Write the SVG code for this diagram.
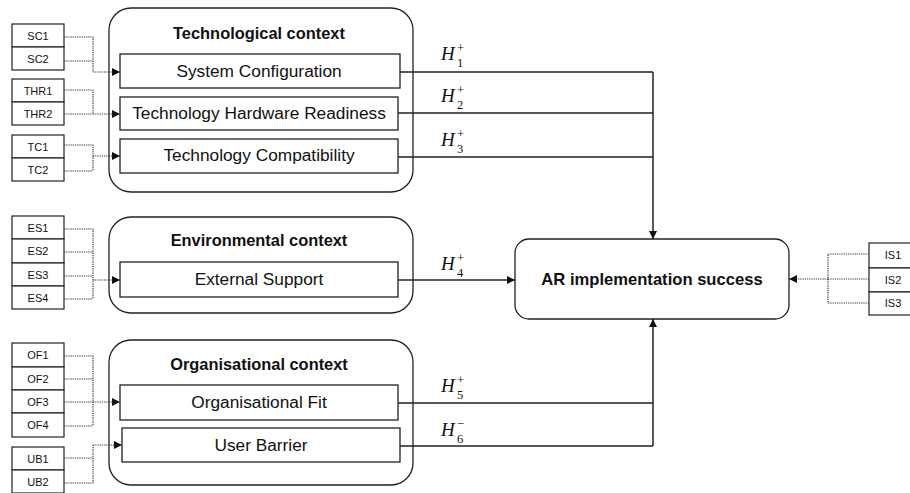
<svg xmlns="http://www.w3.org/2000/svg" width="910" height="493" viewBox="0 0 910 493">
<style>
.ctx{fill:#fff;stroke:#222;stroke-width:1.3}
.box{fill:#fff;stroke:#222;stroke-width:1.3}
.ind{fill:#fff;stroke:#222;stroke-width:1.2}
.title{font-family:"Liberation Sans",Arial,sans-serif;font-weight:bold;font-size:16.4px;fill:#111;text-anchor:middle}
.lbl{font-family:"Liberation Sans",Arial,sans-serif;font-size:17.3px;fill:#111;text-anchor:middle}
.ilbl{font-family:"Liberation Sans",Arial,sans-serif;font-size:11px;fill:#111;text-anchor:middle}
.ar{font-family:"Liberation Sans",Arial,sans-serif;font-weight:bold;font-size:16.6px;fill:#111;text-anchor:middle}
.hH{font-family:"Liberation Serif","Times New Roman",serif;font-style:italic;font-size:19px;fill:#111}
.hs{font-family:"Liberation Serif","Times New Roman",serif;font-style:normal;font-size:12.5px;fill:#111}
.solid{fill:none;stroke:#222;stroke-width:1.5}
.dot{fill:none;stroke:#333;stroke-width:1.2;stroke-dasharray:1.2 1}
</style>
<defs>
<marker id="ah" viewBox="0 0 10 10" refX="10" refY="5" markerWidth="8" markerHeight="8" markerUnits="userSpaceOnUse" orient="auto">
<path d="M0,0 L10,5 L0,10 z" fill="#111"/>
</marker>
</defs>

<g id="tech-context">
<rect class="ctx" x="109" y="8" width="304" height="184" rx="22"/>
<text class="title" x="259" y="39">Technological context</text>
</g>
<g id="system-configuration">
<rect class="box" x="120" y="54" width="280" height="34"/>
<text class="lbl" x="259" y="77">System Configuration</text>
</g>
<g id="tech-hardware-readiness">
<rect class="box" x="120" y="97" width="278" height="33"/>
<text class="lbl" x="259" y="119">Technology Hardware Readiness</text>
</g>
<g id="tech-compatibility">
<rect class="box" x="120" y="139" width="278" height="34"/>
<text class="lbl" x="259" y="161">Technology Compatibility</text>
</g>

<g id="env-context">
<rect class="ctx" x="109" y="217" width="304" height="96" rx="22"/>
<text class="title" x="259" y="246">Environmental context</text>
</g>
<g id="external-support">
<rect class="box" x="120" y="262" width="278" height="35"/>
<text class="lbl" x="259" y="285">External Support</text>
</g>

<g id="org-context">
<rect class="ctx" x="109" y="340" width="304" height="145" rx="22"/>
<text class="title" x="259" y="370">Organisational context</text>
</g>
<g id="organisational-fit">
<rect class="box" x="120" y="385" width="278" height="35"/>
<text class="lbl" x="259" y="408">Organisational Fit</text>
</g>
<g id="user-barrier">
<rect class="box" x="122" y="428" width="278" height="34"/>
<text class="lbl" x="261" y="451">User Barrier</text>
</g>

<g id="ar-success">
<rect class="box" x="515" y="239" width="274" height="80" rx="14"/>
<text class="ar" x="652" y="285">AR implementation success</text>
</g>

<g id="indicators-sc">
<rect class="ind" x="12" y="24" width="52" height="23"/><text class="ilbl" x="38" y="40">SC1</text>
<rect class="ind" x="12" y="47" width="52" height="23"/><text class="ilbl" x="38" y="63">SC2</text>
</g>
<g id="indicators-thr">
<rect class="ind" x="12" y="79" width="52" height="23"/><text class="ilbl" x="38" y="95">THR1</text>
<rect class="ind" x="12" y="102" width="52" height="23"/><text class="ilbl" x="38" y="118">THR2</text>
</g>
<g id="indicators-tc">
<rect class="ind" x="12" y="135" width="52" height="23"/><text class="ilbl" x="38" y="151">TC1</text>
<rect class="ind" x="12" y="158" width="52" height="23"/><text class="ilbl" x="38" y="174">TC2</text>
</g>
<g id="indicators-es">
<rect class="ind" x="12" y="216" width="52" height="23"/><text class="ilbl" x="38" y="232">ES1</text>
<rect class="ind" x="12" y="239" width="52" height="24"/><text class="ilbl" x="38" y="255">ES2</text>
<rect class="ind" x="12" y="263" width="52" height="23"/><text class="ilbl" x="38" y="279">ES3</text>
<rect class="ind" x="12" y="286" width="52" height="23"/><text class="ilbl" x="38" y="302">ES4</text>
</g>
<g id="indicators-of">
<rect class="ind" x="12" y="343" width="52" height="24"/><text class="ilbl" x="38" y="359">OF1</text>
<rect class="ind" x="12" y="367" width="52" height="23"/><text class="ilbl" x="38" y="383">OF2</text>
<rect class="ind" x="12" y="390" width="52" height="23"/><text class="ilbl" x="38" y="406">OF3</text>
<rect class="ind" x="12" y="413" width="52" height="24"/><text class="ilbl" x="38" y="429">OF4</text>
</g>
<g id="indicators-ub">
<rect class="ind" x="12" y="447" width="52" height="23"/><text class="ilbl" x="38" y="463">UB1</text>
<rect class="ind" x="12" y="470" width="52" height="23"/><text class="ilbl" x="38" y="486">UB2</text>
</g>
<g id="indicators-is">
<rect class="ind" x="869" y="243" width="46" height="25"/><text class="ilbl" x="893" y="259">IS1</text>
<rect class="ind" x="869" y="268" width="46" height="24"/><text class="ilbl" x="893" y="284">IS2</text>
<rect class="ind" x="869" y="292" width="46" height="23"/><text class="ilbl" x="893" y="307">IS3</text>
</g>

<g id="connectors">
<path class="dot" d="M64,37 H93 V72 M64,61 H93"/>
<path class="dot" d="M93,72 H120" marker-end="url(#ah)"/>
<path class="dot" d="M64,90 H93 V114 M64,114 H93"/>
<path class="dot" d="M93,114 H120" marker-end="url(#ah)"/>
<path class="dot" d="M64,145 H93 V171 M64,171 H93"/>
<path class="dot" d="M93,156 H120" marker-end="url(#ah)"/>
<path class="dot" d="M64,229 H93 V299 M64,252 H93 M64,276 H93 M64,299 H93"/>
<path class="dot" d="M93,280 H120" marker-end="url(#ah)"/>
<path class="dot" d="M64,356 H93 V426 M64,379 H93 M64,402 H93 M64,426 H93"/>
<path class="dot" d="M93,402 H120" marker-end="url(#ah)"/>
<path class="dot" d="M64,458 H93 M64,483 H93 V445"/>
<path class="dot" d="M93,445 H122" marker-end="url(#ah)"/>
<path class="dot" d="M869,254 H828 V303 M869,279 H828 M869,303 H828"/>
<path class="dot" d="M828,279 H789" marker-end="url(#ah)"/>
<path class="solid" d="M400,72 H653 M398,113 H653 M398,157 H653"/>
<path class="solid" d="M653,72 V239" marker-end="url(#ah)"/>
<path class="solid" d="M398,280 H515" marker-end="url(#ah)"/>
<path class="solid" d="M398,403 H653 M400,446 H653"/>
<path class="solid" d="M653,446 V319" marker-end="url(#ah)"/>
</g>

<g id="hypothesis-labels">
<text class="hH" x="441" y="60">H</text><text class="hs" x="457" y="52">+</text><text class="hs" x="457" y="67">1</text>
<text class="hH" x="441" y="102">H</text><text class="hs" x="457" y="94">+</text><text class="hs" x="457" y="109">2</text>
<text class="hH" x="441" y="146">H</text><text class="hs" x="457" y="138">+</text><text class="hs" x="457" y="153">3</text>
<text class="hH" x="441" y="270">H</text><text class="hs" x="457" y="262">+</text><text class="hs" x="457" y="277">4</text>
<text class="hH" x="441" y="392">H</text><text class="hs" x="457" y="384">+</text><text class="hs" x="457" y="399">5</text>
<text class="hH" x="441" y="436">H</text><text class="hs" x="457" y="428">−</text><text class="hs" x="457" y="443">6</text>
</g>
</svg>
